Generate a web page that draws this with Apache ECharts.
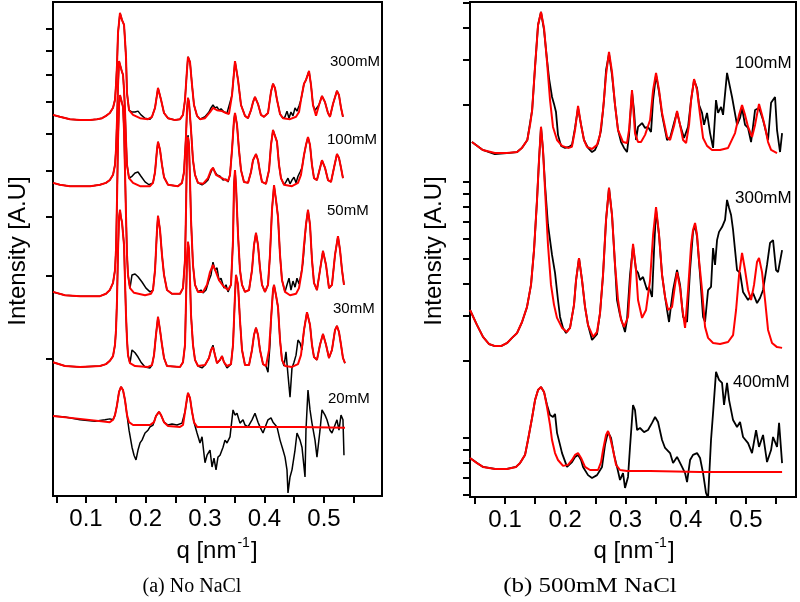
<!DOCTYPE html>
<html>
<head>
<meta charset="utf-8">
<script src="https://cdn.jsdelivr.net/npm/echarts@6/dist/echarts.min.js"></script>
<style>
html,body{margin:0;padding:0;background:#fff;}
#chart{width:800px;height:602px;}
</style>
</head>
<body>
<div id="chart"></div>
<script>
// q ticks and labels
const xTickValues = [0.05, 0.1, 0.15, 0.2, 0.25, 0.3, 0.35, 0.4, 0.45, 0.5, 0.55];
const xLabelValues = [0.1, 0.2, 0.3, 0.4, 0.5];
// log-intensity axes: tick marks at these intensities (arbitrary units)
const leftYTickLabels = [2, 3, 4, 5, 6, 7, 8, 9, 10];
const rightYTickLabels = [0.6, 0.7, 0.8, 0.9, 1, 2, 3, 4, 5, 6, 7, 8, 9, 10, 20, 30, 40, 50];

// Data: [q (nm^-1), log10 intensity (a.u.)]
// (a) No NaCl
const noSalt300Data = [[0.0445,0.818],[0.056,0.814],[0.073,0.809],[0.090,0.807],[0.107,0.807],[0.1185,0.809],[0.127,0.811],[0.1336,0.816],[0.140,0.822],[0.1454,0.833],[0.1487,0.850],[0.1504,0.881],[0.1521,0.924],[0.1538,0.992],[0.1571,1.034],[0.1605,1.019],[0.1639,1.009],[0.1655,0.977],[0.1672,0.941],[0.1689,0.864],[0.1723,0.828],[0.1773,0.824],[0.1824,0.824],[0.1874,0.826],[0.1924,0.818],[0.1992,0.811],[0.2076,0.809],[0.2109,0.814],[0.216,0.833],[0.221,0.875],[0.2261,0.850],[0.2311,0.822],[0.2378,0.811],[0.2496,0.807],[0.258,0.809],[0.263,0.818],[0.2664,0.850],[0.2697,0.913],[0.2714,0.941],[0.2748,0.930],[0.2782,0.881],[0.2815,0.839],[0.2866,0.816],[0.2916,0.809],[0.300,0.814],[0.3067,0.824],[0.3101,0.833],[0.3134,0.839],[0.3168,0.833],[0.3202,0.835],[0.3235,0.828],[0.3269,0.831],[0.3319,0.824],[0.337,0.822],[0.3403,0.818],[0.3454,0.860],[0.3504,0.932],[0.3555,0.892],[0.3605,0.839],[0.3672,0.816],[0.3723,0.811],[0.3773,0.828],[0.3807,0.845],[0.384,0.856],[0.3891,0.841],[0.3941,0.818],[0.3992,0.814],[0.4059,0.822],[0.4109,0.867],[0.4143,0.884],[0.4176,0.875],[0.421,0.850],[0.4261,0.820],[0.4311,0.811],[0.4345,0.814],[0.4378,0.826],[0.4412,0.811],[0.4445,0.824],[0.4479,0.816],[0.4513,0.833],[0.4546,0.826],[0.458,0.837],[0.4613,0.850],[0.4664,0.884],[0.4697,0.892],[0.4748,0.911],[0.4782,0.881],[0.4815,0.839],[0.4849,0.828],[0.4882,0.824],[0.4916,0.839],[0.4966,0.858],[0.5017,0.845],[0.5067,0.822],[0.5101,0.814],[0.5151,0.841],[0.5218,0.869],[0.5252,0.860],[0.5286,0.833],[0.5319,0.814]];
const noSalt300Fit = [[0.0445,0.818],[0.056,0.814],[0.073,0.809],[0.090,0.807],[0.107,0.807],[0.1185,0.809],[0.127,0.811],[0.1336,0.816],[0.140,0.822],[0.1454,0.833],[0.1487,0.850],[0.1504,0.881],[0.1521,0.924],[0.1538,0.992],[0.1571,1.034],[0.1605,1.019],[0.1639,1.009],[0.1655,0.977],[0.1672,0.941],[0.1689,0.864],[0.1723,0.828],[0.179,0.818],[0.1908,0.811],[0.2042,0.809],[0.2109,0.814],[0.216,0.833],[0.221,0.875],[0.2261,0.850],[0.2311,0.822],[0.2378,0.811],[0.2496,0.807],[0.258,0.809],[0.263,0.818],[0.2664,0.850],[0.2697,0.913],[0.2714,0.941],[0.2748,0.930],[0.2782,0.881],[0.2815,0.839],[0.2866,0.816],[0.2916,0.809],[0.300,0.811],[0.3084,0.824],[0.3134,0.833],[0.3202,0.828],[0.3286,0.826],[0.3353,0.822],[0.3403,0.820],[0.3454,0.860],[0.3504,0.932],[0.3555,0.892],[0.3605,0.839],[0.3672,0.816],[0.3723,0.811],[0.3773,0.828],[0.3807,0.845],[0.384,0.856],[0.3891,0.841],[0.3941,0.818],[0.3992,0.814],[0.4059,0.822],[0.4109,0.867],[0.4143,0.884],[0.4176,0.875],[0.421,0.850],[0.4261,0.820],[0.4311,0.811],[0.4429,0.809],[0.453,0.814],[0.458,0.824],[0.4613,0.850],[0.4664,0.884],[0.4697,0.892],[0.4748,0.911],[0.4782,0.881],[0.4815,0.839],[0.4866,0.816],[0.4916,0.839],[0.4966,0.858],[0.5017,0.845],[0.5067,0.822],[0.5101,0.814],[0.5151,0.841],[0.5218,0.869],[0.5252,0.860],[0.5286,0.833],[0.5319,0.814]];

const noSalt100Data = [[0.0445,0.674],[0.056,0.670],[0.073,0.667],[0.107,0.667],[0.1235,0.670],[0.1336,0.674],[0.140,0.680],[0.1454,0.691],[0.1487,0.712],[0.1504,0.744],[0.1521,0.807],[0.1538,0.881],[0.1555,0.932],[0.1571,0.930],[0.1605,0.909],[0.1622,0.903],[0.1639,0.871],[0.1655,0.828],[0.1672,0.765],[0.1689,0.712],[0.1723,0.684],[0.1773,0.688],[0.1824,0.695],[0.1874,0.697],[0.1924,0.688],[0.1992,0.676],[0.2059,0.670],[0.2126,0.674],[0.216,0.697],[0.2193,0.744],[0.221,0.761],[0.2244,0.744],[0.2277,0.712],[0.2311,0.686],[0.2378,0.670],[0.2546,0.667],[0.2613,0.674],[0.2647,0.697],[0.2681,0.775],[0.2697,0.828],[0.2714,0.854],[0.2731,0.845],[0.2765,0.786],[0.2798,0.722],[0.2832,0.691],[0.2882,0.674],[0.295,0.670],[0.300,0.674],[0.305,0.680],[0.3101,0.697],[0.3134,0.706],[0.3168,0.697],[0.3202,0.691],[0.3252,0.688],[0.3303,0.680],[0.3353,0.682],[0.3387,0.676],[0.342,0.691],[0.3454,0.744],[0.3487,0.807],[0.3504,0.822],[0.3538,0.797],[0.3571,0.744],[0.3605,0.701],[0.3655,0.676],[0.3723,0.674],[0.3773,0.697],[0.3807,0.722],[0.3857,0.735],[0.3891,0.722],[0.3924,0.697],[0.3958,0.676],[0.4025,0.672],[0.4076,0.701],[0.4109,0.754],[0.4143,0.786],[0.4176,0.790],[0.421,0.761],[0.4244,0.712],[0.4277,0.684],[0.4328,0.670],[0.4361,0.676],[0.4395,0.684],[0.4429,0.672],[0.4462,0.680],[0.4496,0.686],[0.453,0.674],[0.4563,0.688],[0.4597,0.697],[0.463,0.706],[0.4664,0.733],[0.4697,0.754],[0.4731,0.771],[0.4765,0.754],[0.4798,0.712],[0.4832,0.684],[0.4882,0.680],[0.4916,0.697],[0.4966,0.722],[0.5017,0.706],[0.5067,0.680],[0.5118,0.676],[0.5168,0.706],[0.5218,0.735],[0.5252,0.727],[0.5286,0.706],[0.5319,0.684]];
const noSalt100Fit = [[0.0445,0.674],[0.056,0.670],[0.073,0.667],[0.107,0.667],[0.1235,0.670],[0.1336,0.674],[0.140,0.680],[0.1454,0.691],[0.1487,0.712],[0.1504,0.744],[0.1521,0.807],[0.1538,0.881],[0.1555,0.932],[0.1571,0.930],[0.1605,0.909],[0.1622,0.903],[0.1639,0.871],[0.1655,0.828],[0.1672,0.765],[0.1689,0.712],[0.1723,0.684],[0.179,0.674],[0.1908,0.667],[0.2076,0.667],[0.2126,0.674],[0.216,0.697],[0.2193,0.744],[0.221,0.761],[0.2244,0.744],[0.2277,0.712],[0.2311,0.686],[0.2378,0.670],[0.2546,0.667],[0.2613,0.674],[0.2647,0.697],[0.2681,0.775],[0.2697,0.828],[0.2714,0.854],[0.2731,0.845],[0.2765,0.786],[0.2798,0.722],[0.2832,0.691],[0.2882,0.674],[0.2966,0.672],[0.305,0.684],[0.3101,0.701],[0.3134,0.706],[0.3185,0.691],[0.3252,0.686],[0.3319,0.682],[0.3387,0.678],[0.342,0.691],[0.3454,0.744],[0.3487,0.807],[0.3504,0.822],[0.3538,0.797],[0.3571,0.744],[0.3605,0.701],[0.3655,0.676],[0.3723,0.674],[0.3773,0.697],[0.3807,0.722],[0.3857,0.735],[0.3891,0.722],[0.3924,0.697],[0.3958,0.676],[0.4025,0.672],[0.4076,0.701],[0.4109,0.754],[0.4143,0.786],[0.4176,0.790],[0.421,0.761],[0.4244,0.712],[0.4277,0.684],[0.4328,0.670],[0.4462,0.667],[0.4563,0.674],[0.4613,0.691],[0.4664,0.733],[0.4697,0.754],[0.4731,0.771],[0.4765,0.754],[0.4798,0.712],[0.4832,0.684],[0.4882,0.680],[0.4916,0.697],[0.4966,0.722],[0.5017,0.706],[0.5067,0.680],[0.5118,0.676],[0.5168,0.706],[0.5218,0.735],[0.5252,0.727],[0.5286,0.706],[0.5319,0.684]];

const noSalt50Data = [[0.0445,0.443],[0.0647,0.436],[0.090,0.434],[0.1235,0.434],[0.1336,0.439],[0.140,0.447],[0.1454,0.462],[0.1487,0.489],[0.1504,0.532],[0.1521,0.638],[0.1538,0.765],[0.1555,0.839],[0.1571,0.860],[0.1605,0.843],[0.1622,0.835],[0.1639,0.786],[0.1655,0.701],[0.1672,0.606],[0.1689,0.521],[0.1706,0.479],[0.1739,0.451],[0.1773,0.479],[0.1824,0.481],[0.1874,0.475],[0.1941,0.464],[0.2008,0.451],[0.2076,0.443],[0.2126,0.447],[0.216,0.489],[0.2193,0.574],[0.221,0.604],[0.2244,0.574],[0.2277,0.521],[0.2311,0.479],[0.2361,0.447],[0.2445,0.439],[0.258,0.439],[0.263,0.451],[0.2664,0.511],[0.2681,0.617],[0.2697,0.744],[0.2714,0.775],[0.2731,0.754],[0.2748,0.680],[0.2765,0.595],[0.2798,0.500],[0.2832,0.458],[0.2882,0.443],[0.2933,0.447],[0.2966,0.441],[0.3017,0.447],[0.3067,0.468],[0.3101,0.479],[0.3134,0.506],[0.3168,0.489],[0.3202,0.494],[0.3235,0.468],[0.3269,0.472],[0.3319,0.451],[0.3353,0.458],[0.3387,0.443],[0.3437,0.458],[0.3471,0.553],[0.3487,0.669],[0.3504,0.701],[0.3521,0.669],[0.3555,0.564],[0.3588,0.489],[0.3622,0.458],[0.3672,0.443],[0.374,0.447],[0.379,0.489],[0.3824,0.542],[0.3857,0.568],[0.3891,0.542],[0.3924,0.494],[0.3958,0.458],[0.4008,0.443],[0.4059,0.458],[0.4092,0.521],[0.4126,0.617],[0.416,0.669],[0.4193,0.638],[0.4227,0.602],[0.4261,0.521],[0.4294,0.468],[0.4345,0.443],[0.4378,0.458],[0.4412,0.472],[0.4445,0.447],[0.4479,0.466],[0.4513,0.453],[0.4546,0.472],[0.458,0.460],[0.4613,0.479],[0.4647,0.506],[0.4697,0.585],[0.4731,0.617],[0.4765,0.585],[0.4798,0.511],[0.4832,0.462],[0.4882,0.447],[0.4933,0.489],[0.4983,0.530],[0.5034,0.500],[0.5084,0.451],[0.5134,0.458],[0.5185,0.521],[0.5235,0.561],[0.5269,0.532],[0.5303,0.489],[0.5336,0.458]];
const noSalt50Fit = [[0.0445,0.443],[0.0647,0.436],[0.090,0.434],[0.1235,0.434],[0.1336,0.439],[0.140,0.447],[0.1454,0.462],[0.1487,0.489],[0.1504,0.532],[0.1521,0.638],[0.1538,0.765],[0.1555,0.839],[0.1571,0.860],[0.1605,0.843],[0.1622,0.835],[0.1639,0.786],[0.1655,0.701],[0.1672,0.606],[0.1689,0.521],[0.1706,0.479],[0.1739,0.451],[0.1807,0.441],[0.1992,0.436],[0.2092,0.439],[0.2126,0.447],[0.216,0.489],[0.2193,0.574],[0.221,0.604],[0.2244,0.574],[0.2277,0.521],[0.2311,0.479],[0.2361,0.447],[0.2445,0.439],[0.258,0.439],[0.263,0.451],[0.2664,0.511],[0.2681,0.617],[0.2697,0.744],[0.2714,0.771],[0.2731,0.754],[0.2748,0.680],[0.2765,0.595],[0.2798,0.500],[0.2832,0.458],[0.2882,0.443],[0.2966,0.443],[0.3034,0.458],[0.3084,0.485],[0.3134,0.500],[0.3185,0.485],[0.3235,0.468],[0.3303,0.456],[0.3387,0.447],[0.3437,0.458],[0.3471,0.553],[0.3487,0.669],[0.3504,0.701],[0.3521,0.669],[0.3555,0.564],[0.3588,0.489],[0.3622,0.458],[0.3672,0.443],[0.374,0.447],[0.379,0.489],[0.3824,0.542],[0.3857,0.568],[0.3891,0.542],[0.3924,0.494],[0.3958,0.458],[0.4008,0.443],[0.4059,0.458],[0.4092,0.521],[0.4126,0.617],[0.416,0.669],[0.4193,0.638],[0.4227,0.602],[0.4261,0.521],[0.4294,0.468],[0.4345,0.443],[0.4429,0.436],[0.453,0.439],[0.458,0.451],[0.463,0.489],[0.4664,0.542],[0.4697,0.585],[0.4731,0.617],[0.4765,0.585],[0.4798,0.511],[0.4832,0.462],[0.4882,0.447],[0.4933,0.489],[0.4983,0.530],[0.5034,0.500],[0.5084,0.451],[0.5134,0.458],[0.5185,0.521],[0.5235,0.561],[0.5269,0.532],[0.5303,0.489],[0.5336,0.458]];

const noSalt30Data = [[0.0445,0.294],[0.0647,0.286],[0.090,0.284],[0.1235,0.286],[0.1336,0.290],[0.140,0.297],[0.1454,0.307],[0.1487,0.331],[0.1504,0.362],[0.1521,0.426],[0.1538,0.532],[0.1555,0.600],[0.1571,0.617],[0.1588,0.600],[0.1605,0.591],[0.1622,0.587],[0.1639,0.542],[0.1655,0.468],[0.1672,0.394],[0.1689,0.341],[0.1706,0.309],[0.1739,0.292],[0.1773,0.320],[0.1824,0.314],[0.1874,0.305],[0.1924,0.294],[0.1992,0.284],[0.2076,0.282],[0.2109,0.288],[0.2143,0.309],[0.2176,0.352],[0.221,0.390],[0.2244,0.362],[0.2277,0.331],[0.2311,0.303],[0.2361,0.286],[0.258,0.284],[0.263,0.294],[0.2664,0.331],[0.2681,0.426],[0.2697,0.511],[0.2714,0.549],[0.2731,0.532],[0.2748,0.468],[0.2765,0.394],[0.2798,0.331],[0.2832,0.299],[0.2882,0.286],[0.295,0.282],[0.300,0.288],[0.3067,0.303],[0.3101,0.320],[0.3134,0.330],[0.3168,0.309],[0.3202,0.292],[0.3252,0.299],[0.3286,0.307],[0.3319,0.294],[0.337,0.282],[0.3437,0.290],[0.3471,0.331],[0.3504,0.436],[0.3521,0.479],[0.3538,0.483],[0.3555,0.458],[0.3588,0.383],[0.3622,0.320],[0.3672,0.288],[0.374,0.288],[0.379,0.320],[0.3824,0.352],[0.3857,0.367],[0.3891,0.352],[0.3924,0.320],[0.3975,0.290],[0.4025,0.286],[0.4059,0.273],[0.4092,0.331],[0.4109,0.383],[0.4143,0.447],[0.416,0.458],[0.4193,0.436],[0.4227,0.411],[0.4261,0.341],[0.4294,0.299],[0.4328,0.286],[0.4361,0.316],[0.4395,0.267],[0.4429,0.220],[0.4462,0.282],[0.4496,0.294],[0.453,0.309],[0.4563,0.341],[0.4597,0.335],[0.463,0.320],[0.4664,0.362],[0.4714,0.400],[0.4765,0.373],[0.4798,0.331],[0.4832,0.305],[0.4882,0.299],[0.4933,0.331],[0.4983,0.354],[0.5034,0.331],[0.5084,0.303],[0.5134,0.320],[0.5185,0.362],[0.5218,0.371],[0.5252,0.358],[0.5286,0.331],[0.5319,0.303],[0.5353,0.292]];
const noSalt30Fit = [[0.0445,0.294],[0.0647,0.286],[0.090,0.284],[0.1235,0.286],[0.1336,0.290],[0.140,0.297],[0.1454,0.307],[0.1487,0.331],[0.1504,0.362],[0.1521,0.426],[0.1538,0.532],[0.1555,0.600],[0.1571,0.617],[0.1588,0.600],[0.1605,0.591],[0.1622,0.587],[0.1639,0.542],[0.1655,0.468],[0.1672,0.394],[0.1689,0.341],[0.1706,0.309],[0.1739,0.292],[0.1824,0.286],[0.2042,0.284],[0.2109,0.288],[0.2143,0.309],[0.2176,0.352],[0.221,0.390],[0.2244,0.362],[0.2277,0.331],[0.2311,0.303],[0.2361,0.286],[0.258,0.284],[0.263,0.294],[0.2664,0.331],[0.2681,0.426],[0.2697,0.511],[0.2714,0.549],[0.2731,0.532],[0.2748,0.468],[0.2765,0.394],[0.2798,0.331],[0.2832,0.299],[0.2882,0.286],[0.300,0.288],[0.3067,0.303],[0.3101,0.320],[0.3134,0.326],[0.3168,0.309],[0.3202,0.292],[0.3252,0.299],[0.3286,0.307],[0.3319,0.294],[0.337,0.286],[0.3437,0.290],[0.3471,0.331],[0.3504,0.436],[0.3521,0.479],[0.3538,0.483],[0.3555,0.458],[0.3588,0.383],[0.3622,0.320],[0.3672,0.288],[0.374,0.288],[0.379,0.320],[0.3824,0.352],[0.3857,0.367],[0.3891,0.352],[0.3924,0.320],[0.3975,0.290],[0.4025,0.286],[0.4076,0.320],[0.4109,0.383],[0.4143,0.447],[0.416,0.458],[0.4193,0.436],[0.4227,0.411],[0.4261,0.341],[0.4294,0.299],[0.4345,0.286],[0.4462,0.284],[0.4563,0.290],[0.4613,0.309],[0.4664,0.362],[0.4714,0.400],[0.4765,0.373],[0.4798,0.331],[0.4832,0.305],[0.4882,0.299],[0.4933,0.331],[0.4983,0.354],[0.5034,0.331],[0.5084,0.303],[0.5134,0.320],[0.5185,0.362],[0.5218,0.371],[0.5252,0.358],[0.5286,0.331],[0.5319,0.303],[0.5353,0.292]];

const noSalt20Data = [[0.0445,0.180],[0.0647,0.178],[0.090,0.172],[0.1151,0.169],[0.1319,0.172],[0.140,0.174],[0.1454,0.172],[0.1487,0.182],[0.1521,0.203],[0.1555,0.231],[0.1588,0.242],[0.1622,0.235],[0.1655,0.214],[0.1689,0.182],[0.1723,0.150],[0.1773,0.114],[0.1807,0.097],[0.184,0.087],[0.1874,0.108],[0.1908,0.123],[0.1941,0.129],[0.1992,0.144],[0.2042,0.150],[0.2076,0.157],[0.2126,0.161],[0.2176,0.180],[0.2227,0.189],[0.2261,0.182],[0.2311,0.167],[0.2378,0.161],[0.2445,0.163],[0.2529,0.161],[0.2613,0.165],[0.2664,0.189],[0.2714,0.229],[0.2748,0.218],[0.2782,0.189],[0.2815,0.167],[0.2866,0.144],[0.2916,0.123],[0.295,0.136],[0.300,0.081],[0.3034,0.097],[0.3084,0.108],[0.3118,0.072],[0.3151,0.091],[0.3185,0.066],[0.3218,0.093],[0.3252,0.097],[0.3303,0.114],[0.3336,0.129],[0.337,0.123],[0.342,0.136],[0.3471,0.193],[0.3504,0.182],[0.3538,0.186],[0.3588,0.165],[0.3639,0.172],[0.3672,0.161],[0.3723,0.157],[0.379,0.172],[0.384,0.186],[0.3891,0.167],[0.3924,0.157],[0.3975,0.144],[0.4025,0.161],[0.4059,0.172],[0.4109,0.176],[0.4143,0.167],[0.421,0.157],[0.4261,0.129],[0.4311,0.108],[0.4345,0.093],[0.4378,0.066],[0.4395,0.017],[0.4429,0.051],[0.4462,0.066],[0.4513,0.108],[0.4546,0.144],[0.4597,0.129],[0.463,0.114],[0.4681,0.051],[0.4697,0.150],[0.4731,0.235],[0.4765,0.193],[0.4798,0.165],[0.4849,0.129],[0.4882,0.093],[0.4933,0.150],[0.4966,0.193],[0.5017,0.182],[0.505,0.172],[0.5101,0.150],[0.5134,0.144],[0.5185,0.161],[0.5218,0.172],[0.5252,0.150],[0.5286,0.182],[0.5319,0.172],[0.5336,0.097]];
const noSalt20Fit = [[0.0445,0.180],[0.090,0.174],[0.140,0.167],[0.1454,0.172],[0.1487,0.182],[0.1521,0.203],[0.1555,0.231],[0.1588,0.242],[0.1622,0.235],[0.1655,0.214],[0.1689,0.182],[0.1723,0.167],[0.179,0.161],[0.2076,0.161],[0.2143,0.167],[0.2176,0.180],[0.2227,0.189],[0.2261,0.182],[0.2311,0.167],[0.2378,0.159],[0.258,0.157],[0.263,0.161],[0.2664,0.189],[0.2697,0.218],[0.2714,0.229],[0.2748,0.218],[0.2782,0.189],[0.2815,0.167],[0.2866,0.157],[0.3756,0.157],[0.4597,0.157],[0.5353,0.155]];

// (b) 500mM NaCl
const salt100Data = [[0.045,1.156],[0.063,1.125],[0.083,1.109],[0.103,1.113],[0.120,1.117],[0.128,1.133],[0.137,1.164],[0.145,1.281],[0.150,1.457],[0.1548,1.613],[0.1597,1.664],[0.1647,1.594],[0.1697,1.477],[0.173,1.406],[0.178,1.332],[0.1813,1.305],[0.1846,1.273],[0.1879,1.184],[0.193,1.141],[0.1996,1.133],[0.2062,1.137],[0.2112,1.145],[0.2162,1.211],[0.2212,1.289],[0.2262,1.223],[0.2311,1.164],[0.2378,1.133],[0.2444,1.117],[0.2494,1.125],[0.2544,1.152],[0.2594,1.203],[0.2643,1.320],[0.2677,1.4375],[0.2726,1.5],[0.2776,1.418],[0.2826,1.301],[0.2876,1.203],[0.2926,1.156],[0.2976,1.133],[0.3025,1.117],[0.3059,1.184],[0.3108,1.352],[0.3141,1.281],[0.3175,1.164],[0.3208,1.215],[0.3275,1.230],[0.3325,1.211],[0.3374,1.215],[0.3424,1.195],[0.3458,1.320],[0.3507,1.418],[0.3557,1.352],[0.3607,1.262],[0.369,1.164],[0.374,1.172],[0.381,1.234],[0.3856,1.273],[0.3906,1.223],[0.3972,1.172],[0.4039,1.215],[0.4089,1.320],[0.4138,1.398],[0.4188,1.367],[0.4221,1.301],[0.4271,1.270],[0.4304,1.223],[0.4354,1.270],[0.4404,1.191],[0.4454,1.133],[0.4503,1.320],[0.4537,1.270],[0.4587,1.293],[0.462,1.262],[0.4686,1.426],[0.4769,1.332],[0.4852,1.223],[0.4902,1.250],[0.4935,1.289],[0.4985,1.223],[0.5035,1.211],[0.5085,1.156],[0.5151,1.281],[0.5217,1.289],[0.5284,1.242],[0.5367,1.164],[0.5417,1.309],[0.5483,1.332],[0.5516,1.203],[0.5566,1.117],[0.56,1.191]];
const salt100Fit = [[0.045,1.156],[0.063,1.125],[0.083,1.113],[0.103,1.113],[0.120,1.117],[0.128,1.133],[0.137,1.164],[0.1415,1.223],[0.145,1.281],[0.150,1.457],[0.1548,1.613],[0.1597,1.664],[0.1647,1.602],[0.1697,1.469],[0.1747,1.320],[0.1796,1.215],[0.1863,1.164],[0.1946,1.141],[0.2046,1.133],[0.211,1.137],[0.2162,1.203],[0.2212,1.297],[0.2262,1.223],[0.2311,1.164],[0.236,1.137],[0.2444,1.129],[0.2527,1.145],[0.2577,1.184],[0.2627,1.281],[0.2677,1.418],[0.2726,1.508],[0.2776,1.430],[0.2826,1.301],[0.2876,1.203],[0.2959,1.156],[0.3025,1.152],[0.3059,1.203],[0.3108,1.359],[0.3158,1.191],[0.3208,1.156],[0.3258,1.156],[0.3325,1.184],[0.3408,1.242],[0.3458,1.359],[0.3507,1.426],[0.3557,1.359],[0.3607,1.270],[0.369,1.176],[0.374,1.164],[0.381,1.223],[0.3856,1.277],[0.3906,1.223],[0.3956,1.164],[0.4006,1.152],[0.4055,1.223],[0.4089,1.320],[0.4138,1.402],[0.4188,1.359],[0.4238,1.262],[0.4288,1.172],[0.4354,1.141],[0.4437,1.125],[0.457,1.125],[0.4703,1.133],[0.4819,1.191],[0.4886,1.262],[0.4935,1.301],[0.4985,1.262],[0.5035,1.215],[0.5101,1.176],[0.5151,1.223],[0.5217,1.305],[0.5267,1.262],[0.5317,1.215],[0.5367,1.156],[0.5417,1.125],[0.5516,1.113]];

const salt300Data = [[0.0418,0.500],[0.0535,0.441],[0.0634,0.395],[0.0734,0.367],[0.0833,0.359],[0.0933,0.359],[0.1033,0.371],[0.1116,0.391],[0.1199,0.410],[0.1282,0.453],[0.1365,0.512],[0.1431,0.598],[0.1481,0.734],[0.1531,0.930],[0.1564,1.086],[0.1597,1.215],[0.163,1.125],[0.1664,0.988],[0.1713,0.832],[0.1747,0.773],[0.178,0.715],[0.183,0.645],[0.1879,0.539],[0.1913,0.473],[0.1963,0.430],[0.2013,0.410],[0.2046,0.422],[0.2079,0.430],[0.2145,0.520],[0.2179,0.617],[0.2228,0.703],[0.2278,0.617],[0.2328,0.512],[0.2378,0.441],[0.2444,0.383],[0.2527,0.406],[0.2577,0.488],[0.2627,0.637],[0.2677,0.852],[0.2726,0.977],[0.2776,0.871],[0.2826,0.676],[0.2859,0.539],[0.2909,0.480],[0.2943,0.453],[0.2992,0.414],[0.3025,0.461],[0.3075,0.637],[0.3125,0.750],[0.3175,0.656],[0.3208,0.645],[0.3241,0.617],[0.3291,0.629],[0.3358,0.578],[0.3391,0.590],[0.3441,0.551],[0.3474,0.734],[0.3507,0.891],[0.3557,0.793],[0.3607,0.637],[0.3657,0.551],[0.369,0.500],[0.3723,0.453],[0.3757,0.520],[0.379,0.578],[0.3856,0.656],[0.3906,0.598],[0.3956,0.473],[0.4022,0.453],[0.4072,0.656],[0.4121,0.805],[0.4155,0.832],[0.4188,0.785],[0.4238,0.637],[0.4288,0.473],[0.4321,0.453],[0.4371,0.578],[0.442,0.590],[0.4454,0.742],[0.4487,0.676],[0.452,0.773],[0.4553,0.805],[0.4603,0.824],[0.4653,0.852],[0.4686,0.930],[0.472,0.898],[0.4753,0.871],[0.4786,0.8125],[0.4819,0.734],[0.4852,0.656],[0.4902,0.645],[0.4952,0.570],[0.5035,0.539],[0.5118,0.566],[0.5184,0.527],[0.5234,0.547],[0.5284,0.578],[0.535,0.676],[0.54,0.762],[0.545,0.773],[0.55,0.656],[0.5533,0.648],[0.56,0.734]];
const salt300Fit = [[0.0418,0.500],[0.0535,0.441],[0.0634,0.395],[0.0734,0.367],[0.0833,0.359],[0.0933,0.359],[0.1033,0.371],[0.1116,0.391],[0.1199,0.410],[0.1282,0.453],[0.1365,0.512],[0.1431,0.598],[0.1481,0.734],[0.1531,0.930],[0.1564,1.086],[0.1597,1.215],[0.163,1.125],[0.1664,0.969],[0.1713,0.754],[0.1763,0.598],[0.1813,0.520],[0.1863,0.469],[0.1946,0.430],[0.2029,0.414],[0.2079,0.430],[0.2145,0.520],[0.2179,0.617],[0.2228,0.703],[0.2278,0.617],[0.2328,0.512],[0.2378,0.441],[0.2461,0.395],[0.2527,0.414],[0.2577,0.488],[0.2627,0.637],[0.2677,0.852],[0.2726,0.977],[0.2776,0.871],[0.2826,0.676],[0.2876,0.539],[0.2926,0.461],[0.2976,0.434],[0.3042,0.473],[0.3092,0.656],[0.3125,0.758],[0.3175,0.656],[0.3208,0.539],[0.3275,0.469],[0.3341,0.500],[0.3408,0.617],[0.3458,0.793],[0.3507,0.902],[0.3557,0.793],[0.3607,0.637],[0.3657,0.551],[0.3707,0.500],[0.3773,0.512],[0.3823,0.598],[0.3856,0.648],[0.3906,0.586],[0.3939,0.512],[0.3989,0.430],[0.4039,0.578],[0.4089,0.754],[0.4121,0.8125],[0.4155,0.840],[0.4188,0.793],[0.4221,0.695],[0.4271,0.578],[0.4321,0.434],[0.4371,0.391],[0.4454,0.371],[0.457,0.367],[0.4703,0.375],[0.4786,0.402],[0.4836,0.500],[0.4886,0.637],[0.4935,0.723],[0.4985,0.656],[0.5035,0.578],[0.5085,0.539],[0.5134,0.598],[0.5184,0.6875],[0.5217,0.703],[0.5267,0.648],[0.5317,0.539],[0.5367,0.422],[0.5433,0.371],[0.5516,0.355],[0.56,0.352]];

const salt400Data = [[0.0418,-0.078],[0.0535,-0.098],[0.0634,-0.113],[0.0833,-0.121],[0.1033,-0.121],[0.1182,-0.113],[0.1249,-0.098],[0.1332,-0.066],[0.1381,-0.008],[0.1448,0.078],[0.1498,0.148],[0.1548,0.1875],[0.1597,0.199],[0.1647,0.180],[0.1697,0.129],[0.1747,0.090],[0.1796,0.082],[0.183,0.094],[0.1863,0.020],[0.1913,-0.027],[0.1946,-0.059],[0.2029,-0.113],[0.2112,-0.094],[0.2162,-0.074],[0.2212,-0.066],[0.2262,-0.086],[0.2295,-0.113],[0.2378,-0.145],[0.2444,-0.156],[0.2527,-0.145],[0.261,-0.113],[0.266,-0.027],[0.271,0.023],[0.276,0.0],[0.281,-0.066],[0.2859,-0.113],[0.2909,-0.164],[0.2959,-0.137],[0.2992,-0.195],[0.3042,-0.152],[0.3075,-0.035],[0.3125,0.129],[0.3158,0.109],[0.3192,0.031],[0.3241,0.039],[0.3308,0.023],[0.3374,0.031],[0.3441,0.059],[0.3491,0.082],[0.354,0.0625],[0.3607,-0.008],[0.3657,-0.039],[0.374,-0.059],[0.379,-0.098],[0.3856,-0.074],[0.3939,-0.113],[0.3989,-0.137],[0.4022,-0.172],[0.4072,-0.086],[0.4121,-0.066],[0.4188,-0.059],[0.4238,-0.078],[0.4288,-0.137],[0.4337,-0.215],[0.4371,-0.235],[0.442,-0.008],[0.4454,0.098],[0.4503,0.258],[0.4553,0.227],[0.4603,0.215],[0.4636,0.129],[0.4686,0.215],[0.472,0.148],[0.4786,0.070],[0.4852,0.043],[0.4902,0.0625],[0.4952,0.004],[0.5035,-0.020],[0.5101,-0.059],[0.5168,0.031],[0.5217,-0.035],[0.5284,0.012],[0.535,-0.094],[0.5417,-0.047],[0.545,0.004],[0.5516,-0.035],[0.555,0.059],[0.56,-0.098]];
const salt400Fit = [[0.0418,-0.078],[0.0535,-0.098],[0.0634,-0.113],[0.0833,-0.121],[0.1033,-0.121],[0.1182,-0.113],[0.1249,-0.098],[0.1332,-0.066],[0.1381,-0.008],[0.1448,0.078],[0.1498,0.148],[0.1548,0.1875],[0.1597,0.199],[0.1647,0.180],[0.1697,0.121],[0.1747,0.051],[0.178,-0.008],[0.183,-0.059],[0.1879,-0.086],[0.1963,-0.109],[0.2046,-0.105],[0.2112,-0.086],[0.2162,-0.066],[0.2212,-0.059],[0.2262,-0.078],[0.2328,-0.113],[0.2411,-0.125],[0.2544,-0.125],[0.2594,-0.094],[0.2627,-0.047],[0.2677,0.012],[0.271,0.027],[0.2743,0.004],[0.2793,-0.047],[0.2843,-0.105],[0.2909,-0.125],[0.3025,-0.129],[0.3408,-0.129],[0.4238,-0.133],[0.56,-0.133]];

const DATA_COLOR = '#000000';
const FIT_COLOR = '#ff0000';

function xAxis(gridIndex, min, max) {
  return {
    type: 'value', gridIndex: gridIndex, min: min, max: max,
    axisLine: { show: true, onZero: false, lineStyle: { color: '#000', width: 2 } },
    axisTick: { show: true, inside: false, length: 7, customValues: xTickValues, lineStyle: { color: '#000', width: 2 } },
    axisLabel: { show: true, customValues: xLabelValues, formatter: function (v) { return v.toFixed(1); },
      color: '#000', fontSize: 24, fontFamily: 'Liberation Sans', margin: 11 },
    splitLine: { show: false }
  };
}
function yAxis(gridIndex, min, max, tickLabels) {
  return {
    type: 'value', gridIndex: gridIndex, min: min, max: max,
    axisLine: { show: true, onZero: false, lineStyle: { color: '#000', width: 2 } },
    axisTick: { show: true, inside: false, length: 7, customValues: tickLabels.map(Math.log10), lineStyle: { color: '#000', width: 2 } },
    axisLabel: { show: false },
    splitLine: { show: false }
  };
}
function line(data, color, width, gi) {
  return { type: 'line', data: data, xAxisIndex: gi, yAxisIndex: gi, showSymbol: false, symbol: 'none',
    lineStyle: { color: color, width: width }, silent: true, clip: true, animation: false,
    z: color === FIT_COLOR ? 3 : 2 };
}

const chart = echarts.init(document.getElementById('chart'), null, { renderer: 'canvas' });

const labelFont = 'Liberation Sans';
function tag(text, x, y, size) {
  return { type: 'text', x: x, y: y, style: { text: text, fontSize: size, fontFamily: labelFont, fill: '#000', align: 'left', verticalAlign: 'middle' } };
}
function qName(cx) {
  return { type: 'text', x: cx, y: 551, style: {
    text: '{a|q [nm}{s|-1}{a|]}', align: 'center', verticalAlign: 'middle',
    rich: { a: { fontSize: 24, fontFamily: labelFont, fill: '#000', lineHeight: 30 },
            s: { fontSize: 14, fontFamily: labelFont, fill: '#000', verticalAlign: 'top', lineHeight: 30, padding: [0, 1, 0, 1] } } } };
}
function yName(cx) {
  return { type: 'text', x: cx, y: 251, rotation: Math.PI / 2, style: { text: 'Intensity [A.U]', fontSize: 24, fontFamily: labelFont, fill: '#000', align: 'center', verticalAlign: 'middle' } };
}

chart.setOption({
  animation: false,
  backgroundColor: '#ffffff',
  grid: [
    { left: 53, top: 2, width: 329, height: 494, show: true, borderColor: '#000', borderWidth: 2, backgroundColor: 'transparent' },
    { left: 470, top: 2, width: 326, height: 495, show: true, borderColor: '#000', borderWidth: 2, backgroundColor: 'transparent' }
  ],
  xAxis: [xAxis(0, 0.0445, 0.5975), xAxis(1, 0.0418, 0.5831)],
  yAxis: [yAxis(0, 0.0106, 1.0572, leftYTickLabels), yAxis(1, -0.2305, 1.703, rightYTickLabels)],
  series: [
    line(noSalt300Data, DATA_COLOR, 1.5, 0), line(noSalt100Data, DATA_COLOR, 1.5, 0), line(noSalt50Data, DATA_COLOR, 1.5, 0),
    line(noSalt30Data, DATA_COLOR, 1.5, 0), line(noSalt20Data, DATA_COLOR, 1.5, 0),
    line(noSalt300Fit, FIT_COLOR, 2, 0), line(noSalt100Fit, FIT_COLOR, 2, 0), line(noSalt50Fit, FIT_COLOR, 2, 0),
    line(noSalt30Fit, FIT_COLOR, 2, 0), line(noSalt20Fit, FIT_COLOR, 2, 0),
    line(salt100Data, DATA_COLOR, 1.8, 1), line(salt300Data, DATA_COLOR, 1.8, 1), line(salt400Data, DATA_COLOR, 1.8, 1),
    line(salt100Fit, FIT_COLOR, 2, 1), line(salt300Fit, FIT_COLOR, 2, 1), line(salt400Fit, FIT_COLOR, 2, 1)
  ],
  graphic: { elements: [
    tag('300mM', 330, 62, 15), tag('100mM', 327, 140, 15), tag('50mM', 327, 211, 15), tag('30mM', 333, 309, 15), tag('20mM', 328, 399, 15),
    tag('100mM', 735, 63, 17), tag('300mM', 735, 198, 17), tag('400mM', 733, 382, 17),
    qName(217), qName(634), yName(18), yName(434),
    { type: 'text', x: 192, y: 587, style: { text: '(a) No NaCl', fontSize: 20, fontFamily: 'Liberation Serif', fill: '#000', align: 'center', verticalAlign: 'middle' } },
    { type: 'text', x: 590, y: 587, scaleX: 1.25, style: { text: '(b) 500mM NaCl', fontSize: 20, fontFamily: 'Liberation Serif', fill: '#000', align: 'center', verticalAlign: 'middle' } }
  ] }
});
</script>
</body>
</html>
